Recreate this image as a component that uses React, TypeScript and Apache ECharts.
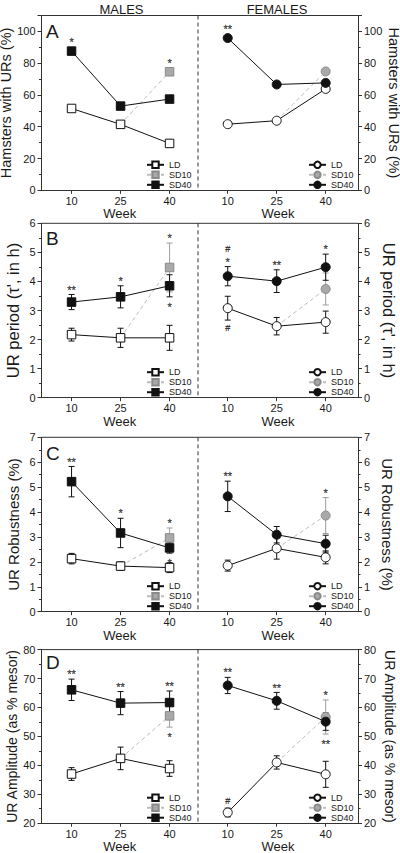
import React, { useEffect, useRef } from "react";
import * as echarts from "echarts";

const FONT = '"Liberation Sans", Arial, Helvetica, sans-serif';

const weeks = [10, 25, 40];
const weekTicks = [10, 25, 40];
const sexTitles = ["MALES", "FEMALES"];
const weekLabel = "Week";

// Panel A: hamsters with URs (%)
const aMaleLD = [51.5, 41.5, 29.5];
const aMaleSD40 = [87.6, 53.0, 57.4];
const aMaleSD10 = [74.6];
const aFemaleLD = [41.6, 43.8, 63.8];
const aFemaleSD40 = [95.8, 66.6, 67.6];
const aFemaleSD10 = [74.8];

// Panel B: UR period (mean, error)
const bMaleLD = [2.17, 2.06, 2.06];
const bMaleLDErr = [0.22, 0.33, 0.43];
const bMaleSD40 = [3.29, 3.47, 3.85];
const bMaleSD40Err = [0.26, 0.38, 0.38];
const bMaleSD10 = [4.48];
const bMaleSD10Err = [0.84];
const bFemaleLD = [3.08, 2.46, 2.6];
const bFemaleLDErr = [0.41, 0.3, 0.38];
const bFemaleSD40 = [4.18, 4.01, 4.49];
const bFemaleSD40Err = [0.33, 0.39, 0.45];
const bFemaleSD10 = [3.74];
const bFemaleSD10Err = [0.55];

// Panel C: UR robustness
const cMaleLD = [2.13, 1.83, 1.77];
const cMaleLDErr = [0.21, 0.17, 0.2];
const cMaleSD40 = [5.22, 3.16, 2.56];
const cMaleSD40Err = [0.61, 0.59, 0.21];
const cMaleSD10 = [2.96];
const cMaleSD10Err = [0.4];
const cFemaleLD = [1.85, 2.54, 2.18];
const cFemaleLDErr = [0.22, 0.43, 0.26];
const cFemaleSD40 = [4.63, 3.09, 2.73];
const cFemaleSD40Err = [0.61, 0.33, 0.34];
const cFemaleSD10 = [3.86];
const cFemaleSD10Err = [0.72];

// Panel D: UR amplitude
const dMaleLD = [37.0, 42.4, 38.9];
const dMaleLDErr = [2.2, 3.9, 2.7];
const dMaleSD40 = [66.1, 61.5, 61.7];
const dMaleSD40Err = [3.7, 4.0, 4.0];
const dMaleSD10 = [57.1];
const dMaleSD10Err = [3.9];
const dFemaleLD = [23.7, 41.0, 36.9];
const dFemaleLDErr = [1.5, 2.3, 4.5];
const dFemaleSD40 = [67.6, 62.3, 55.1];
const dFemaleSD40Err = [2.8, 2.9, 3.0];
const dFemaleSD10 = [56.7];
const dFemaleSD10Err = [5.9];

// Significance marks
const aMaleMarks = [
  { week: 10, ref: "SD40", side: "above", text: "*" },
  { week: 40, ref: "SD10", side: "above", text: "*" },
];
const aFemaleMarks = [{ week: 10, ref: "SD40", side: "above", text: "**" }];
const bMaleMarks = [
  { week: 10, ref: "SD40", side: "above", text: "**" },
  { week: 25, ref: "SD40", side: "above", text: "*" },
  { week: 40, ref: "SD10", side: "above", text: "*" },
  { week: 40, ref: "SD40", side: "below", text: "*" },
];
const bFemaleMarks = [
  { week: 10, ref: "SD40", side: "above", text: "*" },
  { week: 10, ref: "SD40", side: "above", text: "#", level: 1 },
  { week: 10, ref: "LD", side: "below", text: "#" },
  { week: 25, ref: "SD40", side: "above", text: "**" },
  { week: 40, ref: "SD40", side: "above", text: "*" },
];
const cMaleMarks = [
  { week: 10, ref: "SD40", side: "above", text: "**" },
  { week: 25, ref: "SD40", side: "above", text: "*" },
  { week: 40, ref: "SD10", side: "above", text: "*" },
  { week: 40, ref: "SD40", side: "below", text: "*" },
];
const cFemaleMarks = [
  { week: 10, ref: "SD40", side: "above", text: "**" },
  { week: 40, ref: "SD10", side: "above", text: "*" },
];
const dMaleMarks = [
  { week: 10, ref: "SD40", side: "above", text: "**" },
  { week: 25, ref: "SD40", side: "above", text: "**" },
  { week: 40, ref: "SD40", side: "above", text: "**" },
  { week: 40, ref: "SD10", side: "below", text: "*" },
];
const dFemaleMarks = [
  { week: 10, ref: "SD40", side: "above", text: "**" },
  { week: 25, ref: "SD40", side: "above", text: "**" },
  { week: 40, ref: "SD10", side: "above", text: "*" },
  { week: 40, ref: "SD10", side: "below", text: "**" },
  { week: 10, ref: "LD", side: "above", text: "#" },
];

const panels = [
  {
    letter: "A", yName: "Hamsters with URs (%)", min: 0, max: 110, interval: 20, showMax: false,
    sexes: [
      { ld: aMaleLD, sd10: aMaleSD10, sd40: aMaleSD40, marks: aMaleMarks },
      { ld: aFemaleLD, sd10: aFemaleSD10, sd40: aFemaleSD40, marks: aFemaleMarks },
    ],
  },
  {
    letter: "B", yName: "UR period (τ', in h)", min: 0, max: 6, interval: 1, showMax: true,
    sexes: [
      { ld: bMaleLD, ldErr: bMaleLDErr, sd10: bMaleSD10, sd10Err: bMaleSD10Err, sd40: bMaleSD40, sd40Err: bMaleSD40Err, marks: bMaleMarks },
      { ld: bFemaleLD, ldErr: bFemaleLDErr, sd10: bFemaleSD10, sd10Err: bFemaleSD10Err, sd40: bFemaleSD40, sd40Err: bFemaleSD40Err, marks: bFemaleMarks },
    ],
  },
  {
    letter: "C", yName: "UR Robustness (%)", min: 0, max: 7, interval: 1, showMax: true,
    sexes: [
      { ld: cMaleLD, ldErr: cMaleLDErr, sd10: cMaleSD10, sd10Err: cMaleSD10Err, sd40: cMaleSD40, sd40Err: cMaleSD40Err, marks: cMaleMarks },
      { ld: cFemaleLD, ldErr: cFemaleLDErr, sd10: cFemaleSD10, sd10Err: cFemaleSD10Err, sd40: cFemaleSD40, sd40Err: cFemaleSD40Err, marks: cFemaleMarks },
    ],
  },
  {
    letter: "D", yName: "UR Amplitude (as % mesor)", min: 20, max: 80, interval: 10, showMax: true,
    sexes: [
      { ld: dMaleLD, ldErr: dMaleLDErr, sd10: dMaleSD10, sd10Err: dMaleSD10Err, sd40: dMaleSD40, sd40Err: dMaleSD40Err, marks: dMaleMarks },
      { ld: dFemaleLD, ldErr: dFemaleLDErr, sd10: dFemaleSD10, sd10Err: dFemaleSD10Err, sd40: dFemaleSD40, sd40Err: dFemaleSD40Err, marks: dFemaleMarks },
    ],
  },
];

// layout
const ROW_TOPS = [15.5, 223.3, 437.3, 649.6];
const ROW_HEIGHTS = [174.8, 174.4, 174.4, 173.6];
const LETTER_OFFSETS = [15.5, 15, 15.7, 12.4];
const NAME_SIZES = [14.5, 16.5, 15, 14];
const NAME_GAP_LEFT = [20, 20, 21, 21];
const NAME_GAP_RIGHT = [21, 22, 22, 25];
const X_LEFT = 41.5;
const X_DIV = 198;
const X_RIGHT = 358;
const AXIS_COLOR = "#333";
const TEXT_COLOR = "#1a1a1a";
const BLACK = "#111";
const GRAY_FILL = "#a9a9a9";
const GRAY_LINE = "#bdbdbd";
const GRAY_ERR = "#9e9e9e";

function buildOption() {
  const grid: any[] = [];
  const xAxis: any[] = [];
  const yAxis: any[] = [];
  const series: any[] = [];
  const legend: any[] = [];
  const graphic: any[] = [];

  panels.forEach((p, r) => {
    const top = ROW_TOPS[r];
    const h = ROW_HEIGHTS[r];
    p.sexes.forEach((sx: any, s) => {
      const gi = r * 2 + s;
      grid.push({
        left: s ? X_DIV : X_LEFT,
        width: s ? X_RIGHT - X_DIV : X_DIV - X_LEFT,
        top,
        height: h,
        outerBoundsMode: "none",
      });
      xAxis.push({
        gridIndex: gi,
        type: "value",
        min: s ? 0.9 : 0.8,
        max: s ? 49.9 : 48.7,
        name: weekLabel,
        nameLocation: "middle",
        nameGap: 14,
        nameTextStyle: { fontSize: 13, color: TEXT_COLOR, fontFamily: FONT },
        axisLine: { show: true, onZero: false, lineStyle: { color: AXIS_COLOR, width: 1 } },
        axisTick: { show: true, customValues: weekTicks, length: 3.5, lineStyle: { color: AXIS_COLOR } },
        axisLabel: { customValues: weekTicks, fontSize: 11, margin: 5, color: TEXT_COLOR, fontFamily: FONT },
        splitLine: { show: false },
      });
      yAxis.push({
        gridIndex: gi,
        type: "value",
        position: s ? "right" : "left",
        min: p.min,
        max: p.max,
        interval: p.interval,
        name: p.yName,
        nameLocation: "middle",
        nameGap: s ? NAME_GAP_RIGHT[r] : NAME_GAP_LEFT[r],
        nameRotate: s ? -90 : 90,
        nameTextStyle: { fontSize: NAME_SIZES[r], color: TEXT_COLOR, fontFamily: FONT },
        axisLine: { show: true, onZero: false, lineStyle: { color: AXIS_COLOR, width: 1 } },
        axisTick: { show: true, length: 4, lineStyle: { color: AXIS_COLOR } },
        minorTick: { show: true, splitNumber: 2, length: 2.5, lineStyle: { color: AXIS_COLOR } },
        axisLabel: { fontSize: 11, margin: 6, color: TEXT_COLOR, fontFamily: FONT, showMaxLabel: p.showMax },
        splitLine: { show: false },
        minorSplitLine: { show: false },
      });

      const sym = s ? "circle" : "rect";
      const size = s ? 9 : 8.5;
      const groups: any = {
        LD: { mean: sx.ld, err: sx.ldErr, weeks: weeks },
        SD10: { mean: sx.sd10, err: sx.sd10Err, weeks: [weeks[2]] },
        SD40: { mean: sx.sd40, err: sx.sd40Err, weeks: weeks },
      };
      const hasErr = !!sx.ldErr;

      // error bars
      if (hasErr) {
        const rows: any[] = [];
        ["SD10", "LD", "SD40"].forEach((g) => {
          const gd = groups[g];
          gd.weeks.forEach((w: number, i: number) => {
            rows.push([w, gd.mean[i], gd.err[i], g === "SD10" ? 1 : 0]);
          });
        });
        series.push({
          type: "custom",
          xAxisIndex: gi,
          yAxisIndex: gi,
          silent: true,
          z: 1,
          itemStyle: { color: BLACK },
          data: rows,
          encode: { x: 0, y: 1 },
          renderItem: (params: any, api: any) => {
            const x = api.value(0);
            const m = api.value(1);
            const e = api.value(2);
            const g = api.value(3);
            const t = api.coord([x, m + e]);
            const b = api.coord([x, m - e]);
            const stroke = g === 1 ? GRAY_ERR : BLACK;
            const hw = 3;
            const st = { stroke, lineWidth: 1, fill: null };
            return {
              type: "group",
              children: [
                { type: "line", shape: { x1: t[0], y1: t[1], x2: b[0], y2: b[1] }, style: st },
                { type: "line", shape: { x1: t[0] - hw, y1: t[1], x2: t[0] + hw, y2: t[1] }, style: st },
                { type: "line", shape: { x1: b[0] - hw, y1: b[1], x2: b[0] + hw, y2: b[1] }, style: st },
              ],
            };
          },
        });
      }

      const nm = (g: string) => `${g}|${p.letter}|${s}`;
      const common = {
        type: "line",
        xAxisIndex: gi,
        yAxisIndex: gi,
        symbol: sym,
        symbolSize: size,
        silent: true,
        z: 3,
        emphasis: { disabled: true },
      };
      series.push({
        ...common,
        name: nm("LD"),
        data: weeks.map((w, i) => [w, sx.ld[i]]),
        itemStyle: { color: "#ffffff", borderColor: BLACK, borderWidth: 1 },
        lineStyle: { color: BLACK, width: 1 },
      });
      series.push({
        ...common,
        name: nm("SD10"),
        data: [
          { value: [weeks[1], sx.ld[1]], symbol: "none" },
          { value: [weeks[2], sx.sd10[0]] },
        ],
        itemStyle: { color: GRAY_FILL, borderColor: "#8a8a8a", borderWidth: 1 },
        lineStyle: { color: GRAY_LINE, width: 1, type: [4, 3] },
      });
      series.push({
        ...common,
        name: nm("SD40"),
        data: weeks.map((w, i) => [w, sx.sd40[i]]),
        itemStyle: { color: BLACK, borderColor: BLACK, borderWidth: 1 },
        lineStyle: { color: BLACK, width: 1 },
      });

      // significance marks as labels of an invisible scatter
      const markData = sx.marks.map((mk: any) => {
        const gd = groups[mk.ref];
        const i = gd.weeks.indexOf(mk.week);
        const e = gd.err ? gd.err[i] : 0;
        const v = mk.side === "above" ? gd.mean[i] + e : gd.mean[i] - e;
        const gap = (hasErr ? 7.5 : 11.5) + (mk.level || 0) * 9.7;
        const isStar = mk.text.indexOf("*") >= 0;
        const dy = (mk.side === "above" ? -gap : gap) + (isStar ? 2.6 : 0);
        return {
          value: [mk.week, v],
          label: {
            show: true,
            position: "inside",
            offset: [0, dy],
            formatter: mk.text,
            fontSize: isStar ? 11 : 9,
            color: TEXT_COLOR,
            textBorderColor: TEXT_COLOR,
            textBorderWidth: 0.3,
            fontFamily: FONT,
            align: "center",
            verticalAlign: "middle",
          },
        };
      });
      series.push({
        type: "scatter",
        xAxisIndex: gi,
        yAxisIndex: gi,
        silent: true,
        z: 4,
        symbol: "circle",
        symbolSize: 1,
        itemStyle: { color: "rgba(0,0,0,0)" },
        emphasis: { disabled: true },
        data: markData,
      });

      legend.push({
        data: [nm("LD"), nm("SD10"), nm("SD40")],
        left: s ? 308 : 146,
        top: top + h - 30,
        orient: "vertical",
        itemWidth: 17,
        itemHeight: 8,
        itemGap: 1,
        padding: 0,
        selectedMode: false,
        formatter: (n: string) => n.split("|")[0],
        textStyle: { fontSize: 9, color: TEXT_COLOR, fontFamily: FONT },
      });
    });

    // frame top line & dashed divider
    graphic.push({
      type: "line",
      silent: true,
      shape: { x1: X_LEFT, y1: top, x2: X_RIGHT, y2: top },
      style: { stroke: AXIS_COLOR, lineWidth: 1 },
    });
    graphic.push({
      type: "line",
      silent: true,
      shape: { x1: X_DIV, y1: top, x2: X_DIV, y2: top + h },
      style: { stroke: AXIS_COLOR, lineWidth: 1, lineDash: [4, 3] },
    });
    graphic.push({
      type: "text",
      silent: true,
      x: 46,
      y: top + LETTER_OFFSETS[r],
      style: {
        text: p.letter,
        fontSize: 19,
        fontFamily: FONT,
        fill: TEXT_COLOR,
        textAlign: "left",
        align: "left",
        textVerticalAlign: "middle",
        verticalAlign: "middle",
      },
    });
  });

  sexTitles.forEach((t, s) => {
    graphic.push({
      type: "text",
      silent: true,
      x: s ? 277 : 121.5,
      y: 9.5,
      style: {
        text: t,
        fontSize: 13,
        fontFamily: FONT,
        fill: TEXT_COLOR,
        textAlign: "center",
        align: "center",
        textVerticalAlign: "middle",
        verticalAlign: "middle",
      },
    });
  });

  return {
    animation: false,
    backgroundColor: "#ffffff",
    textStyle: { fontFamily: FONT },
    grid,
    xAxis,
    yAxis,
    series,
    legend,
    graphic,
    tooltip: { show: false },
  };
}

export default function App() {
  const ref = useRef<HTMLDivElement>(null);
  useEffect(() => {
    if (!ref.current) return;
    const chart = echarts.init(ref.current, null, { renderer: "svg", width: 400, height: 853 });
    chart.setOption(buildOption() as any);
    return () => chart.dispose();
  }, []);
  return (
    <div
      ref={ref}
      style={{ position: "absolute", left: 0, top: 0, width: 400, height: 853, background: "#fff" }}
    />
  );
}
